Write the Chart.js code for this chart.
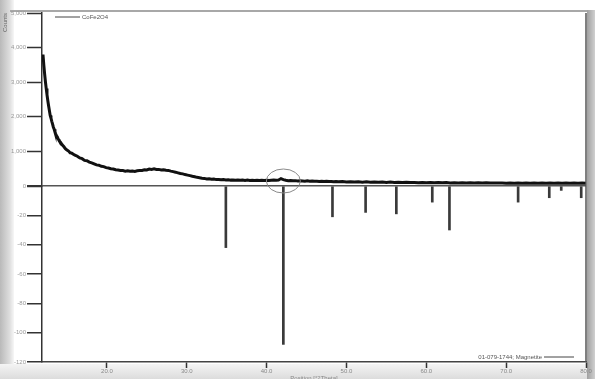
<!DOCTYPE html>
<html lang="en">
<head>
    <meta charset="UTF-8">
    <title>XRD pattern with reference sticks</title>
    <script src="https://cdn.jsdelivr.net/npm/chart.js"></script>
    <style>
        html, body { margin: 0; padding: 0; background: #fff; }
        #wrap { width: 595px; height: 379px; }
    </style>
</head>
<body>
<div id="wrap"><canvas id="xrd"></canvas></div>
<script>
    // measured scan (2theta in degrees, counts)
    const twoTheta = [
        12.0, 12.1, 12.2, 12.3, 12.4, 12.5, 12.6, 12.7, 12.8, 12.9, 13.0, 13.1, 13.2, 13.3, 13.4, 13.5,
        13.6, 13.7, 13.8, 13.9, 14.0, 14.2, 14.4, 14.6, 14.8, 15.0, 15.2, 15.4, 15.6, 15.8, 16.0, 16.3,
        16.6, 16.9, 17.2, 17.5, 17.8, 18.1, 18.4, 18.7, 19.0, 19.3, 19.6, 19.9, 20.2, 20.5, 20.8, 21.1,
        21.4, 21.7, 22.0, 22.3, 22.6, 22.9, 23.2, 23.5, 23.8, 24.1, 24.4, 24.7, 25.0, 25.3, 25.6, 25.9,
        26.2, 26.5, 26.8, 27.1, 27.4, 27.7, 28.0, 28.3, 28.6, 28.9, 29.2, 29.5, 29.8, 30.1, 30.4, 30.7,
        31.0, 31.3, 31.6, 31.9, 32.2, 32.5, 32.8, 33.1, 33.4, 33.7, 34.0, 34.3, 34.6, 34.9, 35.2, 35.5,
        35.8, 36.1, 36.4, 36.7, 37.0, 37.3, 37.6, 37.9, 38.2, 38.5, 38.8, 39.1, 39.4, 39.7, 40.0, 40.3,
        40.6, 40.9, 41.2, 41.5, 41.8, 42.1, 42.4, 42.7, 43.0, 43.3, 43.6, 43.9, 44.2, 44.5, 44.8, 45.1,
        45.4, 45.7, 46.0, 46.3, 46.6, 46.9, 47.2, 47.5, 47.8, 48.1, 48.4, 48.7, 49.0, 49.5, 50.0, 50.5,
        51.0, 51.5, 52.0, 52.5, 53.0, 53.5, 54.0, 54.5, 55.0, 55.5, 56.0, 56.5, 57.0, 57.5, 58.0, 58.5,
        59.0, 59.5, 60.0, 60.5, 61.0, 61.5, 62.0, 62.5, 63.0, 63.5, 64.0, 64.5, 65.0, 65.5, 66.0, 66.5,
        67.0, 67.5, 68.0, 68.5, 69.0, 69.5, 70.0, 70.5, 71.0, 71.5, 72.0, 72.5, 73.0, 73.5, 74.0, 74.5,
        75.0, 75.5, 76.0, 76.5, 77.0, 77.5, 78.0, 78.5, 79.0, 79.5, 80.0
    ];
    const counts = [
        3800, 3500, 3250, 3020, 2820, 2640, 2470, 2320, 2180, 2040, 1960, 1870, 1790, 1700, 1640, 1560,
        1500, 1450, 1420, 1360, 1320, 1260, 1190, 1140, 1080, 1040, 1010, 960, 950, 920, 890, 860,
        810, 790, 740, 730, 690, 670, 640, 610, 600, 570, 560, 530, 520, 500, 490, 470,
        460, 450, 445, 430, 440, 425, 430, 420, 440, 445, 450, 470, 465, 490, 480, 495,
        475, 480, 465, 470, 455, 450, 430, 415, 400, 380, 360, 350, 330, 315, 300, 280,
        265, 250, 240, 225, 220, 205, 210, 195, 200, 185, 190, 180, 185, 175, 180, 170,
        175, 165, 175, 165, 170, 160, 170, 160, 165, 160, 168, 158, 165, 160, 168, 158,
        165, 170, 168, 175, 215, 185, 165, 155, 160, 150, 155, 145, 150, 145, 140, 148,
        138, 142, 135, 140, 132, 138, 130, 136, 128, 132, 120, 130, 124, 130, 118, 125,
        116, 122, 112, 120, 110, 118, 108, 114, 104, 112, 102, 108, 100, 106, 98, 104,
        96, 102, 95, 100, 94, 100, 92, 98, 90, 96, 88, 95, 88, 94, 86, 92,
        85, 92, 84, 90, 84, 90, 82, 88, 82, 88, 80, 86, 80, 86, 80, 88,
        80, 86, 82, 88, 80, 86, 82, 88, 82, 86, 80
    ];

    // reference pattern sticks (2theta, relative intensity, drawn downward)
    const refPos = [34.9, 42.1, 48.25, 52.4, 56.25, 60.75, 62.9, 71.5, 75.4, 76.9, 79.4];
    const refInt = [42, 108, 21, 18, 19, 11, 30, 11, 8, 3, 8];

    // axis ticks
    const xTicks = [20, 30, 40, 50, 60, 70, 80];
    const countTicks = [0, 1000, 2000, 3000, 4000, 5000];
    const refTicks = [-120, -100, -80, -60, -40, -20];

    const scanLabel = 'CoFe2O4';
    const refLabel = '01-079-1744; Magnetite';
    const xTitle = 'Position [°2Theta]';
    const yTitle = 'Counts';

    const smallFont = { family: 'Liberation Sans, Arial, sans-serif', size: 6 };

    const framePlugin = {
        id: 'frame',
        beforeDraw(chart) {
            const c = chart.ctx;
            c.save();
            c.fillStyle = '#fff';
            c.fillRect(0, 0, chart.width, chart.height);
            // left shadow
            let g = c.createLinearGradient(0, 0, 14, 0);
            g.addColorStop(0, '#b9b9b9');
            g.addColorStop(0.7, '#dedede');
            g.addColorStop(1, '#f7f7f7');
            c.fillStyle = g;
            c.fillRect(0, 0, 14, chart.height);
            // bottom band
            g = c.createLinearGradient(0, 364, 0, 379);
            g.addColorStop(0, '#f4f4f4');
            g.addColorStop(1, '#dcdcdc');
            c.fillStyle = g;
            c.fillRect(0, 364, chart.width, 15);
            // top rule
            c.fillStyle = '#a8a8a8';
            c.fillRect(10, 10, 580, 2);
            // right bar
            g = c.createLinearGradient(586, 0, 595, 0);
            g.addColorStop(0, '#9a9a9a');
            g.addColorStop(1, '#d0d0d0');
            c.fillStyle = g;
            c.fillRect(587, 10, 8, 369);
            c.restore();
        },
        afterDraw(chart) {
            const c = chart.ctx;
            const a = chart.chartArea;
            const xs = chart.scales.x;
            const yr = chart.scales.yRef;
            c.save();
            // right plot border
            c.strokeStyle = '#555';
            c.lineWidth = 1.5;
            c.beginPath();
            c.moveTo(a.right, a.top);
            c.lineTo(a.right, a.bottom);
            c.stroke();
            // circle around the main peak
            const cx = xs.getPixelForValue(refPos[1]);
            const cy = yr.getPixelForValue(0) - 5;
            c.strokeStyle = '#8a8a8a';
            c.lineWidth = 1;
            c.beginPath();
            c.ellipse(cx, cy, 17, 12, 0, 0, Math.PI * 2);
            c.stroke();
            // legend entries
            c.font = '6px Liberation Sans, Arial, sans-serif';
            c.fillStyle = '#555';
            c.textBaseline = 'middle';
            c.strokeStyle = '#444';
            c.lineWidth = 1;
            c.beginPath();
            c.moveTo(a.left + 13, a.top + 4);
            c.lineTo(a.left + 38, a.top + 4);
            c.stroke();
            c.fillText(scanLabel, a.left + 40, a.top + 4);
            const tw = c.measureText(refLabel).width;
            c.fillText(refLabel, a.right - 44 - tw, a.bottom - 5);
            c.beginPath();
            c.moveTo(a.right - 42, a.bottom - 5);
            c.lineTo(a.right - 12, a.bottom - 5);
            c.stroke();
            c.restore();
        }
    };

    new Chart(document.getElementById('xrd'), {
        type: 'line',
        data: {
            datasets: [{
                label: scanLabel,
                data: twoTheta.map((t, i) => ({ x: t, y: counts[i] })),
                yAxisID: 'yObs',
                borderColor: '#111',
                borderWidth: 3,
                pointRadius: 0,
                tension: 0,
                fill: false
            }, {
                type: 'bar',
                label: refLabel,
                data: refPos.map((t, i) => ({ x: t, y: -refInt[i] })),
                yAxisID: 'yRef',
                backgroundColor: '#3a3a3a',
                barThickness: 2,
                borderWidth: 0
            }]
        },
        options: {
            responsive: true,
            maintainAspectRatio: false,
            animation: false,
            layout: { padding: { top: 13, right: 9, left: 0, bottom: 0 } },
            plugins: {
                legend: { display: false },
                tooltip: { enabled: false }
            },
            scales: {
                x: {
                    type: 'linear',
                    min: 11.875,
                    max: 80,
                    offset: false,
                    afterBuildTicks: s => { s.ticks = xTicks.map(v => ({ value: v })); },
                    afterFit: s => { s.height = 17; },
                    border: { color: '#444', width: 1.5 },
                    grid: { offset: false, drawOnChartArea: false, tickLength: 6, tickColor: '#333', tickWidth: 1.5 },
                    ticks: { font: smallFont, color: '#888', padding: 0, maxRotation: 0,
                             callback: v => v.toFixed(1) },
                    title: { display: true, text: xTitle, font: smallFont, color: '#888',
                             padding: { top: 0, bottom: -3 } }
                },
                yRef: {
                    type: 'linear',
                    position: 'left',
                    stack: 'left',
                    stackWeight: 176,
                    min: -120,
                    max: 0,
                    afterBuildTicks: s => { s.ticks = refTicks.map(v => ({ value: v })).concat([{ value: 0 }]); },
                    afterFit: s => { s.width = 42; },
                    border: { color: '#333', width: 1.5 },
                    grid: {
                        drawOnChartArea: true,
                        color: ctx => ctx.tick && ctx.tick.value === 0 ? '#555' : 'rgba(0,0,0,0)',
                        lineWidth: 1.5,
                        tickLength: 15,
                        tickColor: '#333',
                        tickWidth: 1.5
                    },
                    ticks: { font: smallFont, color: '#999', padding: 1,
                             callback: v => v === 0 ? '' : String(v) }
                },
                yObs: {
                    type: 'linear',
                    position: 'left',
                    stack: 'left',
                    stackWeight: 173,
                    min: 0,
                    max: 5000,
                    afterBuildTicks: s => { s.ticks = countTicks.map(v => ({ value: v })); },
                    afterFit: s => { s.width = 42; },
                    border: { color: '#333', width: 1.5 },
                    grid: { drawOnChartArea: false, tickLength: 15, tickColor: '#333', tickWidth: 1.5 },
                    ticks: { font: smallFont, color: '#999', padding: 1 },
                    title: { display: true, text: yTitle, font: smallFont, color: '#666',
                             align: 'end', padding: 2 }
                }
            }
        },
        plugins: [framePlugin]
    });
</script>
</body>
</html>
